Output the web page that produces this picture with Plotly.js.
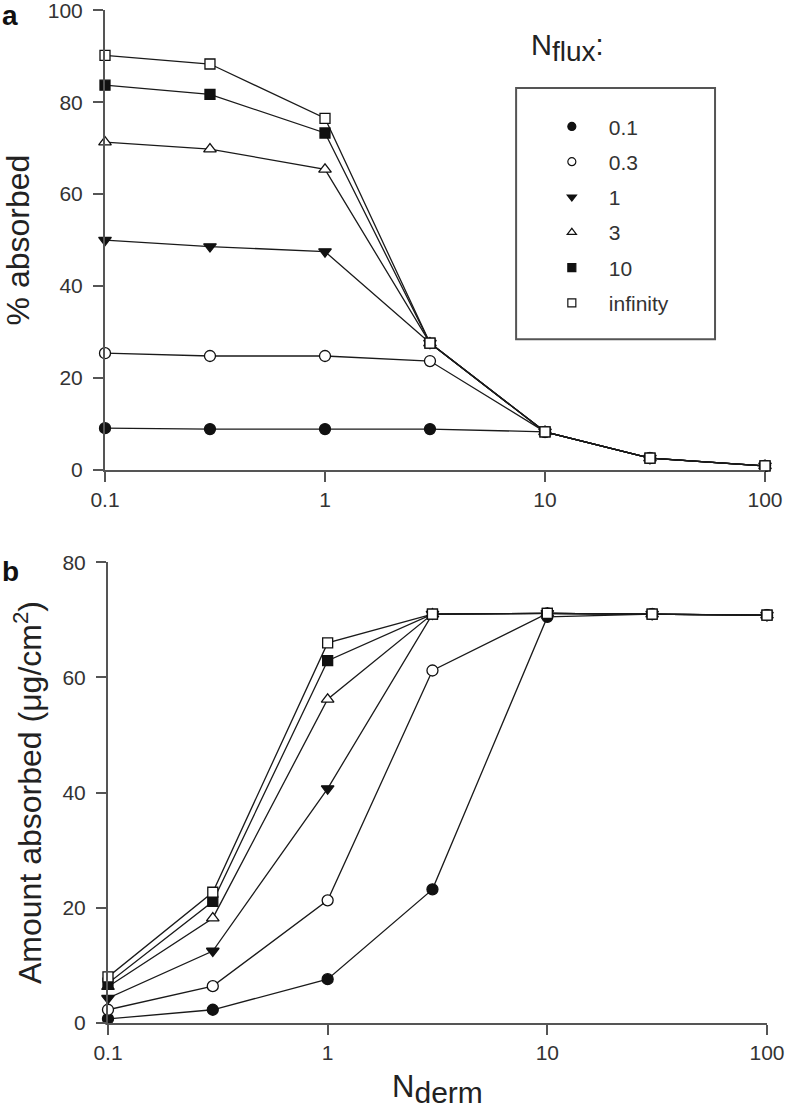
<!DOCTYPE html>
<html>
<head>
<meta charset="utf-8">
<script src="https://cdn.plot.ly/plotly-3.0.1.min.js"></script>
<style>html,body{margin:0;padding:0;background:#fff;}</style>
</head>
<body>
<div id="chart" style="width:787px;height:1114px;"></div>
<script>
// N_derm values (x)
const nDerm = [0.1, 0.3, 1, 3, 10, 30, 100];
// Series names (N_flux)
const fluxNames = ['0.1', '0.3', '1', '3', '10', 'infinity'];

// Panel a: % absorbed
const pctFlux01  = [9.1, 8.9, 8.9, 8.9, 8.3, 2.6, 0.9];
const pctFlux03  = [25.4, 24.8, 24.8, 23.7, 8.3, 2.6, 0.9];
const pctFlux1   = [50.0, 48.6, 47.5, 27.6, 8.3, 2.6, 0.9];
const pctFlux3   = [71.3, 69.8, 65.4, 27.6, 8.3, 2.6, 0.9];
const pctFlux10  = [83.7, 81.7, 73.3, 27.6, 8.3, 2.6, 0.9];
const pctFluxInf = [90.2, 88.3, 76.5, 27.6, 8.3, 2.6, 0.9];

// Panel b: amount absorbed (ug/cm2)
const amtFlux01  = [0.7, 2.3, 7.6, 23.2, 70.5, 71.0, 70.8];
const amtFlux03  = [2.3, 6.4, 21.3, 61.2, 71.1, 71.0, 70.8];
const amtFlux1   = [4.3, 12.5, 40.7, 71.0, 71.1, 71.0, 70.8];
const amtFlux3   = [6.3, 18.2, 56.2, 71.0, 71.1, 71.0, 70.8];
const amtFlux10  = [6.9, 21.1, 62.9, 71.0, 71.1, 71.0, 70.8];
const amtFluxInf = [8.0, 22.7, 66.0, 71.0, 71.1, 71.0, 70.8];

// Tick labels
const xTickVals = [0.1, 1, 10, 100];
const xTickText = ['0.1', '1', '10', '100'];
const yTopTicks = [0, 20, 40, 60, 80, 100];
const yBotTicks = [0, 20, 40, 60, 80];

const pctSeries = [pctFlux01, pctFlux03, pctFlux1, pctFlux3, pctFlux10, pctFluxInf];
const amtSeries = [amtFlux01, amtFlux03, amtFlux1, amtFlux3, amtFlux10, amtFluxInf];

const LINE = '#1a1a1a';
const AX = '#555555';
const markerStyles = [
  {symbol: 'circle', color: '#111', size: 11},
  {symbol: 'circle', color: '#fff', size: 11},
  {symbol: 'triangle-down', color: '#111', size: 11},
  {symbol: 'triangle-up', color: '#fff', size: 11},
  {symbol: 'square', color: '#111', size: 10},
  {symbol: 'square', color: '#fff', size: 10}
];

const traces = [];
function addPanel(series, xa, ya) {
  series.forEach((ys, i) => {
    traces.push({x: nDerm, y: ys, xaxis: xa, yaxis: ya, mode: 'lines', type: 'scatter',
      line: {color: LINE, width: 1.3}, showlegend: false, hoverinfo: 'skip', cliponaxis: false});
  });
  series.forEach((ys, i) => {
    const m = markerStyles[i];
    traces.push({x: nDerm, y: ys, xaxis: xa, yaxis: ya, mode: 'markers', type: 'scatter',
      name: fluxNames[i], showlegend: false, cliponaxis: false,
      marker: {symbol: m.symbol, color: m.color, size: m.size, line: {color: '#111', width: 1.3}}});
  });
}
addPanel(pctSeries, 'x', 'y');
addPanel(amtSeries, 'x2', 'y2');
// legend entries
fluxNames.forEach((nm, i) => {
  const m = markerStyles[i];
  traces.push({x: [null], y: [null], xaxis: 'x', yaxis: 'y', mode: 'markers', type: 'scatter',
    name: nm, legendgroup: 'g' + i, showlegend: true,
    marker: {symbol: m.symbol, color: m.color, size: 8, line: {color: '#111', width: 1.2}}});
});

const FONT = 'Liberation Sans, Arial, sans-serif';
function xAxis(extra) {
  return Object.assign({
    type: 'log', range: [-1, 2], tickvals: xTickVals, ticktext: xTickText,
    showline: true, linecolor: AX, linewidth: 2, ticks: 'outside', ticklen: 10,
    tickwidth: 2, tickcolor: AX, showgrid: false, zeroline: false,
    tickfont: {family: FONT, size: 21, color: '#333'}, ticklabeloverflow: 'allow'
  }, extra);
}
function yAxis(extra) {
  return Object.assign({
    showline: true, linecolor: AX, linewidth: 2, ticks: 'outside', ticklen: 10,
    tickwidth: 2, tickcolor: AX, showgrid: false, zeroline: false,
    tickfont: {family: FONT, size: 21, color: '#333'}, ticklabelstandoff: 6,
    ticklabeloverflow: 'allow'
  }, extra);
}

const layout = {
  width: 787, height: 1114,
  margin: {l: 105, r: 20, t: 10, b: 91},
  paper_bgcolor: '#fff', plot_bgcolor: '#fff',
  font: {family: FONT, color: '#222'},
  xaxis: xAxis({domain: [0, 0.997], anchor: 'y'}),
  yaxis: yAxis({domain: [0.5459, 1], anchor: 'x', range: [0, 100.05], tickvals: yTopTicks,
    title: {text: '% absorbed', font: {family: FONT, size: 32, color: '#222'}, standoff: 16}}),
  xaxis2: xAxis({domain: [0.0045, 1], anchor: 'y2',
    title: {text: 'N<sub><span style="font-size:30px">derm</span></sub>', font: {family: FONT, size: 31, color: '#222'}, standoff: 12}}),
  yaxis2: yAxis({domain: [0, 0.4551], anchor: 'x2', range: [0, 80.04], tickvals: yBotTicks,
    title: {text: 'Amount absorbed (μg/cm<sup>2</sup>)', font: {family: FONT, size: 32, color: '#222'}, standoff: 11}}),
  showlegend: true,
  legend: {x: 0.6493, y: 0.905, xanchor: 'left', yanchor: 'top', bgcolor: 'rgba(0,0,0,0)',
    borderwidth: 0, font: {family: FONT, size: 21, color: '#333'}, tracegroupgap: 5,
    traceorder: 'grouped', itemwidth: 64},
  shapes: [
    {type: 'rect', xref: 'paper', yref: 'paper', x0: 0.621, x1: 0.9215, y0: 0.675, y1: 0.923,
     line: {color: AX, width: 2}, fillcolor: 'rgba(0,0,0,0)'}
  ],
  annotations: [
    {xref: 'paper', yref: 'paper', x: 0.641, y: 0.942, xanchor: 'left', yanchor: 'bottom',
     text: 'N<sub><span style="font-size:28px">flux</span></sub>:', showarrow: false, font: {family: FONT, size: 29, color: '#222'}},
    {xref: 'paper', yref: 'paper', x: -0.158, y: 1.012, xanchor: 'left', yanchor: 'top',
     text: '<b>a</b>', showarrow: false, font: {family: FONT, size: 28, color: '#111'}},
    {xref: 'paper', yref: 'paper', x: -0.158, y: 0.463, xanchor: 'left', yanchor: 'top',
     text: '<b>b</b>', showarrow: false, font: {family: FONT, size: 28, color: '#111'}}
  ]
};

Plotly.newPlot('chart', traces, layout, {staticPlot: true, displayModeBar: false});
</script>
</body>
</html>
